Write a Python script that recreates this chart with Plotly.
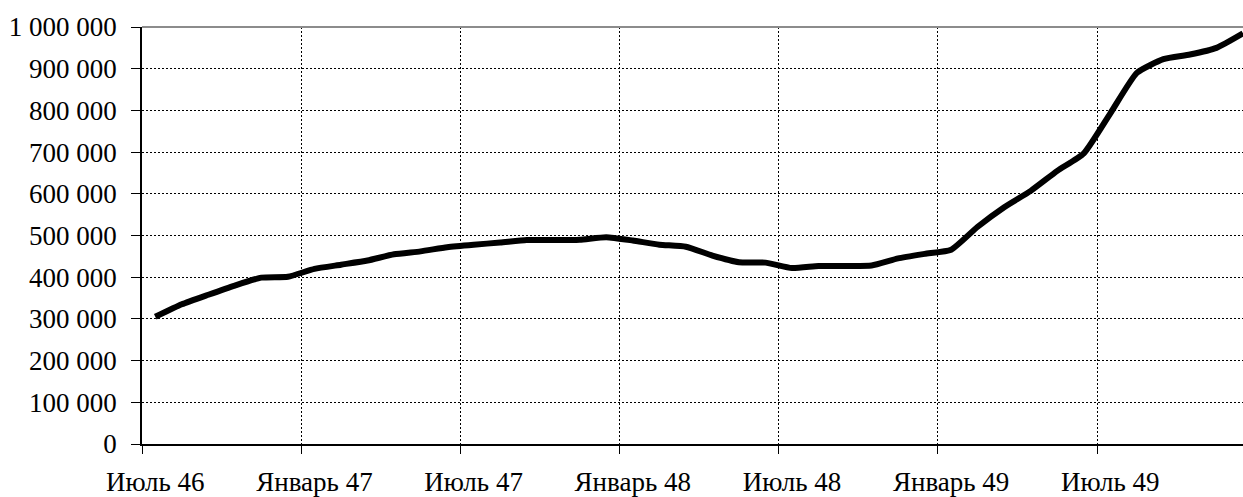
import plotly.graph_objects as go

# Monthly series, July 1946 .. December 1949 (index 0 = July 1946)
month_index = list(range(42))
values = [
    305000, 335000, 358000, 380000, 399000, 401000,   # Jul-Dec 46
    420000, 430000, 440000, 455000, 462000, 472000,   # Jan-Jun 47
    478000, 483000, 489000, 489000, 490000, 496000,   # Jul-Dec 47
    488000, 478000, 473000, 452000, 436000, 435000,   # Jan-Jun 48
    422000, 427000, 427000, 428000, 445000, 456000,   # Jul-Dec 48
    466000, 521000, 568000, 607000, 655000, 697000,   # Jan-Jun 49
    793000, 890000, 923000, 934000, 950000, 985000,   # Jul-Dec 49
]

x_tick_positions = [0, 6, 12, 18, 24, 30, 36]
x_tick_labels = ["Июль 46", "Январь 47", "Июль 47", "Январь 48",
                 "Июль 48", "Январь 49", "Июль 49"]

y_tick_values = [0, 100000, 200000, 300000, 400000, 500000,
                 600000, 700000, 800000, 900000, 1000000]
y_tick_labels = ["0", "100 000", "200 000", "300 000", "400 000", "500 000",
                 "600 000", "700 000", "800 000", "900 000", "1 000 000"]

# category boundaries (tick marks / vertical grid lines sit between months)
boundaries = [p - 0.5 for p in x_tick_positions]

FONT = "Liberation Serif, Times New Roman, serif"

fig = go.Figure()
fig.add_trace(go.Scatter(
    x=month_index, y=values, mode="lines",
    line=dict(color="black", width=6, shape="spline", smoothing=0.5),
    hoverinfo="skip", showlegend=False,
))

fig.update_layout(
    width=1243, height=497,
    margin=dict(l=142, r=0, t=27, b=53, autoexpand=False),
    paper_bgcolor="white", plot_bgcolor="white",
    font=dict(family=FONT, size=27, color="black"),
    showlegend=False,
)

fig.update_xaxes(
    range=[-0.5, 41.0], showline=True, linecolor="black", linewidth=1.5,
    tickmode="array", tickvals=x_tick_positions, ticktext=x_tick_labels,
    ticks="", showgrid=False, zeroline=False, automargin=False,
    ticklabelstandoff=13,
    minor=dict(tickmode="array", tickvals=boundaries, ticks="outside",
               ticklen=8, tickwidth=1, tickcolor="black",
               showgrid=True, gridcolor="black", gridwidth=1, griddash="2px,2px"),
)

fig.update_yaxes(
    range=[0, 1000000], showline=True, linecolor="black", linewidth=1.5,
    tickmode="array", tickvals=y_tick_values, ticktext=y_tick_labels,
    ticks="outside", ticklen=9, tickwidth=1, tickcolor="black",
    showgrid=True, gridcolor="black", gridwidth=1, griddash="2px,2px",
    zeroline=False, automargin=False, ticklabelstandoff=9,
)

# grey plot-area border along the top
fig.add_shape(type="line", xref="paper", yref="paper", x0=0, x1=1, y0=1, y1=1,
              line=dict(color="#8c8c8c", width=2), layer="above")

fig.write_html("out.html", config={"displayModeBar": False},
               post_script="document.body.style.margin='0';document.body.style.overflow='hidden';")
